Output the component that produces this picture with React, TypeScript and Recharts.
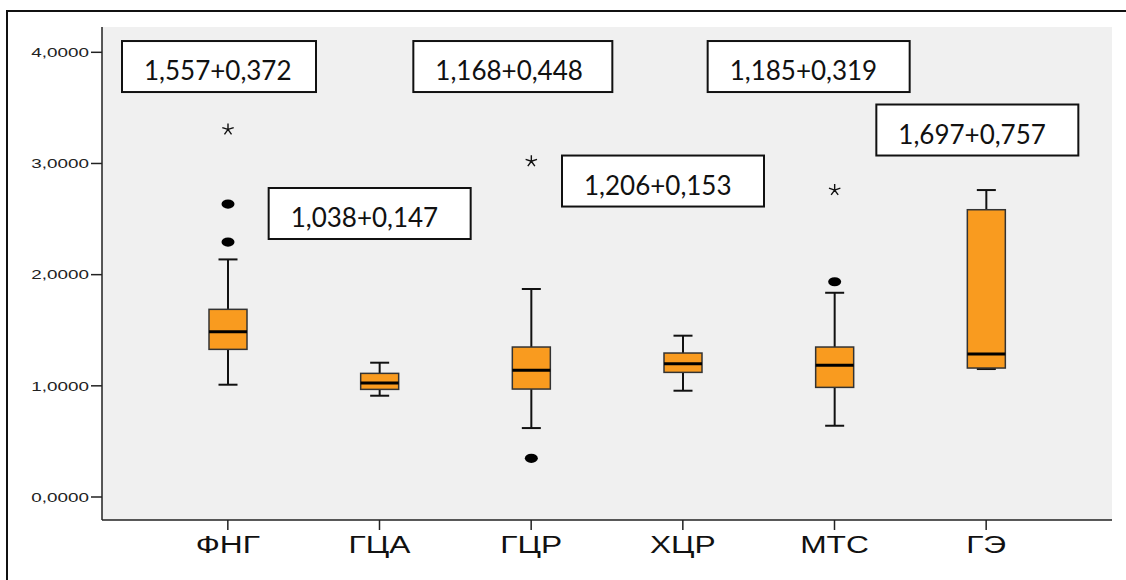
import { Bar, CartesianGrid, ComposedChart, XAxis, YAxis } from "recharts"

// box plot statistics
const categories = ["ФНГ", "ГЦА", "ГЦР", "ХЦР", "МТС", "ГЭ"]
const whiskerLow = [1.01, 0.911, 0.62, 0.956, 0.641, 1.151]
const q1 = [1.328, 0.968, 0.971, 1.121, 0.986, 1.16]
const median = [1.487, 1.025, 1.139, 1.199, 1.184, 1.286]
const q3 = [1.688, 1.112, 1.349, 1.295, 1.349, 2.584]
const whiskerHigh = [2.137, 1.208, 1.871, 1.451, 1.837, 2.761]
const outliers = [[2.635, 2.293], [], [0.348], [], [1.936], []]
const extremes = [[3.306], [], [3.02], [], [2.761], []]
const meanSd = ["1,557+0,372", "1,038+0,147", "1,168+0,448", "1,206+0,153", "1,185+0,319", "1,697+0,757"]
const yTicks = [0, 1, 2, 3, 4]

// where each mean±sd note sits: left edge from category centre (px), centre height (value units), width (px)
const noteLayout = [
  { dx: -106, cy: 3.872, w: 194 },
  { dx: -111, cy: 2.55, w: 202 },
  { dx: -118, cy: 3.872, w: 199 },
  { dx: -121, cy: 2.842, w: 202 },
  { dx: -127, cy: 3.872, w: 202 },
  { dx: -110, cy: 3.301, w: 202 },
]

const Y_DOMAIN: [number, number] = [-0.2069, 4.2276]
const ORANGE = "#F99B1F"

const rows = categories.map((name, i) => ({
  name,
  low: whiskerLow[i],
  q1: q1[i],
  median: median[i],
  q3: q3[i],
  high: whiskerHigh[i],
  outliers: outliers[i],
  extremes: extremes[i],
  note: meanSd[i],
}))

const fmt = (v: number) => v.toFixed(4).replace(".", ",")

const YTick = ({ x, y, payload }: any) => (
  <text
    x={0}
    y={0}
    transform={`translate(${x},${y}) scale(1.45,1)`}
    textAnchor="end"
    dominantBaseline="central"
    fontSize={13}
    fontFamily="'Liberation Sans', Arial, sans-serif"
    fill="#222"
  >
    {fmt(payload.value)}
  </text>
)

const XTick = ({ x, y, payload }: any) => (
  <text
    x={0}
    y={0}
    transform={`translate(${x},${y + 21}) scale(1.38,1)`}
    textAnchor="middle"
    fontSize={23}
    fontFamily="'Liberation Sans', Arial, sans-serif"
    fill="#111"
  >
    {payload.value}
  </text>
)

const star = (cx: number, cy: number, r: number) => {
  let d = ""
  for (let k = 0; k < 5; k++) {
    const a = ((-90 + k * 72) * Math.PI) / 180
    d += `M${cx},${cy}L${cx + r * Math.cos(a)},${cy + r * Math.sin(a)}`
  }
  return d
}

const BoxShape = (props: any) => {
  const { x, y, width, height, payload, index } = props
  const k = height / (payload.high - payload.low)
  const yOf = (v: number) => y + (payload.high - v) * k
  const cx = x + width / 2
  const cap = width / 2
  const note = noteLayout[index]
  const noteTop = yOf(note.cy) - 25.5
  return (
    <g>
      <line x1={cx} x2={cx} y1={yOf(payload.high)} y2={yOf(payload.q3)} stroke="#111" strokeWidth={2} />
      <line x1={cx} x2={cx} y1={yOf(payload.q1)} y2={yOf(payload.low)} stroke="#111" strokeWidth={2} />
      <line x1={cx - cap / 2} x2={cx + cap / 2} y1={yOf(payload.high)} y2={yOf(payload.high)} stroke="#111" strokeWidth={2} />
      <line x1={cx - cap / 2} x2={cx + cap / 2} y1={yOf(payload.low)} y2={yOf(payload.low)} stroke="#111" strokeWidth={2} />
      <rect
        x={x}
        y={yOf(payload.q3)}
        width={width}
        height={yOf(payload.q1) - yOf(payload.q3)}
        fill={ORANGE}
        stroke="#333"
        strokeWidth={1.5}
      />
      <line x1={x} x2={x + width} y1={yOf(payload.median)} y2={yOf(payload.median)} stroke="#000" strokeWidth={3} />
      {payload.outliers.map((v: number, j: number) => (
        <ellipse key={`o${j}`} cx={cx} cy={yOf(v)} rx={6.5} ry={4.6} fill="#000" />
      ))}
      {payload.extremes.map((v: number, j: number) => (
        <path key={`e${j}`} d={star(cx, yOf(v), 6)} stroke="#111" strokeWidth={1.4} fill="none" />
      ))}
      <rect x={cx + note.dx} y={noteTop} width={note.w} height={51} fill="#fff" stroke="#111" strokeWidth={2} />
      <text
        x={cx + note.dx + 22}
        y={noteTop + 39}
        fontSize={26}
        fontFamily="Lato, 'Open Sans', sans-serif"
        fill="#111"
      >
        {payload.note}
      </text>
    </g>
  )
}

export default function App() {
  return (
    <div style={{ position: "absolute", left: 0, top: 0, width: 1126, height: 580, overflow: "hidden", background: "#fff" }}>
      <div
        style={{
          position: "absolute",
          left: 6,
          top: 10,
          width: 1200,
          height: 700,
          borderLeft: "2px solid #111",
          borderTop: "2px solid #111",
        }}
      />
      <div style={{ position: "absolute", left: 0, top: 0 }}>
        <ComposedChart
          width={1126}
          height={580}
          data={rows}
          margin={{ top: 27, right: 14, bottom: 0, left: 0 }}
        >
          <CartesianGrid fill="#F0F0F0" horizontal={false} vertical={false} />
          <XAxis
            dataKey="name"
            height={60}
            padding={{ left: 50, right: 50 }}
            axisLine={{ stroke: "#222", strokeWidth: 1.5 }}
            tickLine={{ stroke: "#222", strokeWidth: 1.5 }}
            tickSize={10}
            tick={<XTick />}
            interval={0}
          />
          <XAxis
            xAxisId="top"
            orientation="top"
            dataKey="name"
            height={0}
            tick={false}
            tickLine={false}
            axisLine={{ stroke: "#999", strokeWidth: 1 }}
          />
          <YAxis
            width={102}
            domain={Y_DOMAIN}
            ticks={yTicks}
            axisLine={{ stroke: "#222", strokeWidth: 1.5 }}
            tickLine={{ stroke: "#222", strokeWidth: 1.5 }}
            tickSize={11}
            tick={<YTick />}
            interval={0}
          />
          <YAxis
            yAxisId="right"
            orientation="right"
            width={0}
            domain={Y_DOMAIN}
            tick={false}
            tickLine={false}
            axisLine={{ stroke: "#444", strokeWidth: 1.5 }}
          />
          <Bar
            dataKey={(d: any) => [d.low, d.high]}
            barSize={38}
            shape={<BoxShape />}
            isAnimationActive={false}
          />
        </ComposedChart>
      </div>
    </div>
  )
}
